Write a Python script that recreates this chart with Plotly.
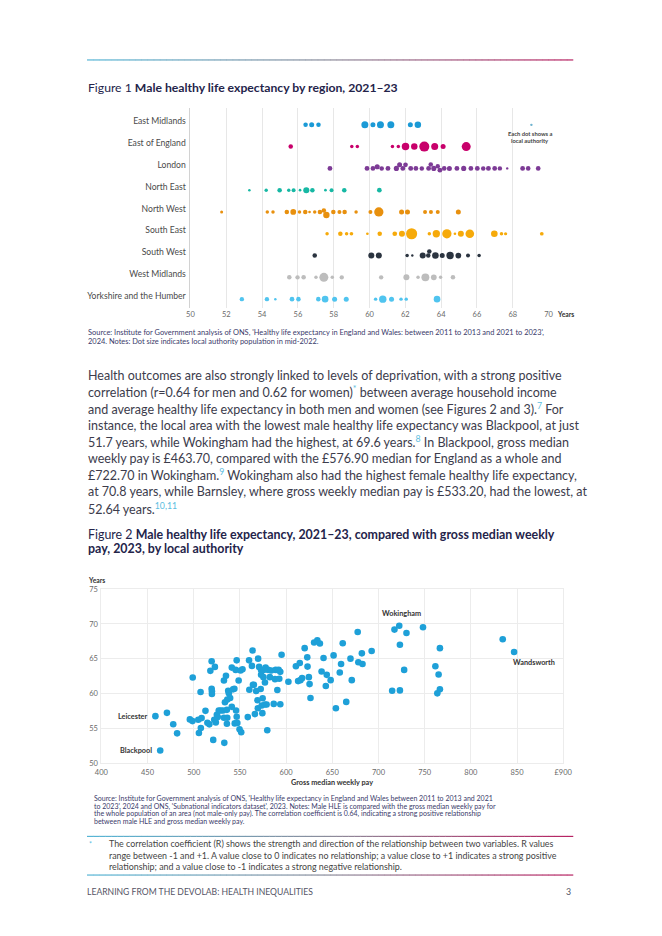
import numpy as np
import plotly.graph_objects as go

W, H = 662, 936
FONT = "Lato"
NAVY = "#24244a"
BODY = "#3c3c4c"
SRC = "#3a3a6a"
SUPC = "#5bbde0"

# ---------------- Figure 1 data ----------------
regions = ["East Midlands", "East of England", "London", "North East", "North West",
           "South East", "South West", "West Midlands", "Yorkshire and the Humber"]
region_colors = ["#1b9ad6", "#c8006b", "#7d3b96", "#17b8a4", "#e8900e",
                 "#f6aa0a", "#2b3440", "#bdbdbd", "#50c4ef"]

hle_east_midlands = [56.43, 56.77, 57.15, 59.74, 60.19, 60.61, 61.19, 62.28, 62.70]
pop_east_midlands = [260, 320, 260, 625, 320, 625, 625, 320, 540]

hle_east_of_england = [55.6, 59.01, 59.32, 61.28, 61.61, 62.01, 62.50, 63.06, 63.64, 64.11, 65.40]
pop_east_of_england = [260, 155, 155, 155, 155, 720, 540, 1275, 625, 320, 1030]

hle_london = [57.79, 59.86, 60.19, 60.43, 60.68, 61.03, 61.50, 61.68, 61.86, 62.01, 62.30,
              62.59, 62.92, 63.30, 63.42, 63.59, 63.81, 63.93, 64.17, 64.46, 64.88, 65.26,
              65.66, 66.02, 66.35, 66.64, 66.99, 67.28, 67.69, 68.55, 68.86, 69.42]
pop_london = [300, 300, 280, 330, 260, 300, 340, 320, 300, 280, 310,
              290, 260, 300, 270, 330, 250, 300, 280, 320, 300, 340,
              290, 300, 260, 310, 290, 250, 30, 300, 270, 280]

hle_north_east = [53.29, 54.23, 54.98, 55.49, 55.76, 56.12, 56.47, 56.81, 57.54, 57.88, 58.59, 60.55]
pop_north_east = [80, 150, 260, 150, 205, 90, 470, 260, 90, 200, 260, 280]

hle_north_west = [51.74, 54.29, 54.61, 55.38, 55.74, 56.09, 56.41, 56.65, 56.94, 57.23, 57.45, 57.59,
                  57.98, 58.32, 58.61, 59.25, 60.05, 60.52, 61.79, 62.12, 63.10, 63.43, 63.81, 64.96]
pop_north_west = [115, 155, 155, 260, 420, 155, 260, 90, 155, 260, 260, 520,
                  260, 205, 260, 155, 205, 1100, 320, 320, 205, 205, 205, 320]

hle_south_east = [57.63, 58.37, 58.72, 58.99, 59.88, 60.57, 61.41, 61.81, 62.35, 63.34,
                  63.73, 64.32, 64.77, 65.10, 65.60, 66.97, 67.37, 67.60, 69.62]
pop_south_east = [155, 260, 155, 170, 90, 260, 280, 460, 1580, 155,
                  680, 1100, 90, 460, 950, 560, 155, 130, 175]

hle_south_west = [56.94, 60.10, 60.52, 62.10, 62.39, 62.97, 63.28, 63.34, 63.68, 64.06,
                  64.50, 64.96, 65.50, 66.12]
pop_south_west = [260, 460, 460, 155, 70, 460, 260, 260, 560, 320, 700, 420, 205, 155]

hle_west_midlands = [55.52, 55.98, 56.32, 57.01, 57.45, 57.92, 58.45, 60.65, 62.06, 62.71,
                     63.12, 63.59, 63.97, 64.66]
pop_west_midlands = [260, 240, 260, 155, 1030, 155, 240, 240, 460, 155, 800, 420, 155, 260]

hle_yorkshire = [52.87, 54.27, 54.74, 55.67, 56.03, 57.14, 57.52, 58.05, 58.70, 60.34,
                 60.74, 61.23, 61.76, 62.05, 63.77]
pop_yorkshire = [240, 240, 80, 280, 260, 260, 560, 320, 320, 155, 700, 320, 155, 155, 560]

fig1_hle = [hle_east_midlands, hle_east_of_england, hle_london, hle_north_east, hle_north_west,
            hle_south_east, hle_south_west, hle_west_midlands, hle_yorkshire]
fig1_pop = [pop_east_midlands, pop_east_of_england, pop_london, pop_north_east, pop_north_west,
            pop_south_east, pop_south_west, pop_west_midlands, pop_yorkshire]

fig1_xticks = [50, 52, 54, 56, 58, 60, 62, 64, 66, 68, 70]

# ---------------- Figure 2 data ----------------
weekly_pay = [458.5, 463.7, 471.0, 477.8, 482.0, 495.8, 498.6, 498.9, 504.9, 505.6, 507.4, 507.7,
              508.5, 512.7, 514.8, 516.9, 518.0, 519.4, 519.4, 519.7, 519.7, 521.1, 522.2, 522.9,
              523.9, 525.0, 526.0, 527.1, 529.2, 531.7, 532.7, 532.7, 533.1, 533.8, 534.9, 535.9,
              535.9, 536.3, 536.3, 537.3, 538.0, 539.4, 541.2, 541.2, 542.6, 544.0, 544.4, 545.4,
              545.8, 546.5, 546.5, 547.2, 548.6, 549.6, 550.7, 551.4, 552.8, 558.5, 559.9, 560.2,
              563.0, 563.7, 564.1, 565.1, 566.2, 567.6, 569.0, 569.7, 569.4, 570.8, 572.5, 572.9,
              572.9, 573.6, 574.3, 574.6, 575.4, 575.7, 577.1, 577.1, 577.8, 578.9, 579.6, 580.6,
              582.4, 583.8, 586.6, 588.0, 588.7, 590.5, 591.9, 592.6, 593.7, 593.7, 595.1, 602.5,
              610.6, 613.0, 614.8, 615.5, 617.3, 620.1, 622.9, 623.2, 624.6, 625.4, 626.4, 630.3,
              633.8, 636.6, 638.4, 640.5, 643.0, 644.0, 648.2, 651.4, 661.3, 659.5, 658.1, 653.9,
              665.1, 669.7, 671.1, 677.5, 678.2, 682.0, 682.7, 692.6, 717.3, 722.5, 730.3, 723.2,
              727.8, 714.8, 723.2, 748.2, 761.6, 765.1, 766.5, 766.5, 763.7, 834.5, 846.8]
male_hle = [56.77, 51.85, 57.24, 55.60, 54.30, 56.30, 56.06, 62.30, 56.25, 54.36, 60.23, 55.07,
            56.49, 57.53, 55.82, 55.59, 63.26, 64.63, 60.70, 60.32, 59.94, 53.36, 56.25, 63.83,
            55.87, 56.96, 56.63, 57.58, 57.58, 57.58, 61.88, 56.53, 52.94, 58.76, 62.55, 57.67,
            55.68, 56.53, 59.14, 60.42, 60.04, 59.38, 63.73, 58.10, 60.61, 60.70, 55.73, 63.40,
            57.58, 56.68, 64.77, 55.78, 61.88, 54.88, 63.31, 54.45, 63.50, 56.63, 64.77, 60.56,
            63.97, 66.19, 61.27, 61.27, 57.06, 60.37, 59.04, 65.01, 57.91, 63.83, 60.65, 63.40,
            62.69, 58.29, 57.20, 59.33, 62.36, 63.40, 61.60, 58.43, 63.73, 58.43, 54.74, 63.40,
            62.36, 63.31, 58.52, 62.07, 63.40, 60.51, 63.40, 62.12, 58.48, 63.12, 65.58, 61.70,
            63.92, 61.79, 64.39, 61.93, 62.22, 66.52, 65.20, 63.87, 62.36, 61.36, 59.38, 67.33,
            67.66, 67.19, 63.16, 65.10, 61.08, 62.69, 61.93, 65.48, 67.23, 64.25, 63.02, 57.91,
            58.81, 65.01, 61.93, 68.84, 64.49, 65.77, 64.25, 66.10, 69.18, 69.74, 68.70, 67.00,
            63.40, 60.42, 60.46, 69.51, 63.92, 62.74, 66.52, 60.61, 60.04, 67.80, 65.96]

labelled_names = ["Leicester", "Blackpool", "Wokingham", "Wandsworth"]
labelled_pay = [458.5, 463.7, 722.5, 846.8]
labelled_hle = [56.77, 51.85, 69.74, 65.96]

fig2_xticks = [400, 450, 500, 550, 600, 650, 700, 750, 800, 850, 900]
fig2_xticktext = ["400", "450", "500", "550", "600", "650", "700", "750", "800", "850", "£900"]
fig2_yticks = [50, 55, 60, 65, 70, 75]

# ---------------- geometry ----------------
F1_X0, F1_X1 = 188, 555          # px for 50 and 70
F1_TOP, F1_BOT = 105, 307
ROW0, ROWSTEP = 122, 22
PXY = (F1_X1 - F1_X0) / 20.0


def psize(p):
    return max(2.4, 0.28 * np.sqrt(p))


def dodge(xs, sizes):
    placed = []
    offs = [0.0] * len(xs)
    for i in np.argsort(xs, kind="stable"):
        x = xs[i] * PXY
        r = sizes[i] / 2.0
        cands = [0.0]
        for (qx, qy, qr) in placed:
            rr = qr + r - 0.2
            dx = abs(x - qx)
            if dx < rr:
                dy = np.sqrt(rr * rr - dx * dx)
                cands += [qy - dy, qy + dy]
        cands.sort(key=lambda c: (round(abs(c), 3), c > 0))
        best = cands[0]
        for c in cands:
            if all((x - qx) ** 2 + (c - qy) ** 2 >= (qr + r - 0.2) ** 2 - 1e-6 for qx, qy, qr in placed):
                best = c
                break
        placed.append((x, best, r))
        offs[i] = best
    return offs


fig = go.Figure()

for i, (name, col) in enumerate(zip(regions, region_colors)):
    xs = fig1_hle[i]
    sz = [psize(p) for p in fig1_pop[i]]
    offs = dodge(xs, sz)
    ys = [i + o / ROWSTEP for o in offs]
    fig.add_trace(go.Scatter(x=xs, y=ys, mode="markers", name=name, xaxis="x", yaxis="y",
                             marker=dict(size=sz, color=col, line=dict(width=0), opacity=1),
                             hoverinfo="x+name"))

# legend-like "each dot" marker
fig.add_trace(go.Scatter(x=[69.04], y=[0], mode="markers", xaxis="x", yaxis="y",
                         marker=dict(size=2.4, color="#6fb3cf"), hoverinfo="skip"))

fig.add_trace(go.Scatter(x=weekly_pay, y=male_hle, mode="markers", xaxis="x2", yaxis="y2",
                         marker=dict(size=6.6, color="#1ea0d8", line=dict(width=0)),
                         hoverinfo="x+y"))

y_top = -(ROW0 - F1_TOP) / ROWSTEP
y_bot = (F1_BOT - ROW0) / ROWSTEP

F2_X0, F2_X1 = 96.7, 570
F2_TOP, F2_BOT = 590.7, 766.7

grid = "#e7e7e7"
tickf = dict(family=FONT, size=7.5, color="#6a6a6a")

fig.update_layout(
    width=W, height=H, autosize=False,
    margin=dict(l=0, r=0, t=0, b=0, pad=0),
    paper_bgcolor="white", plot_bgcolor="white",
    showlegend=False,
    font=dict(family=FONT, color=BODY),
    xaxis=dict(domain=[F1_X0 / W, F1_X1 / W], range=[50, 70], tickvals=fig1_xticks,
               showgrid=True, gridcolor=grid, gridwidth=1, zeroline=False, showline=False,
               ticks="", tickfont=tickf, anchor="y", fixedrange=True),
    yaxis=dict(domain=[1 - F1_BOT / H, 1 - F1_TOP / H], range=[y_bot, y_top],
               tickvals=[i - 0.16 for i in range(len(regions))], ticktext=regions,
               showgrid=False, zeroline=False, showline=True, linecolor="#d2d2d2", linewidth=1,
               ticks="", tickfont=dict(family=FONT, size=8.6, color="#4a4a4a"), anchor="x",
               ticklabelstandoff=2, fixedrange=True),
    xaxis2=dict(domain=[F2_X0 / W, F2_X1 / W], range=[400, 900], tickvals=fig2_xticks,
                ticktext=fig2_xticktext, showgrid=True, gridcolor="#ececec", zeroline=False,
                showline=True, mirror=True, linecolor="#ececec", ticks="", tickfont=tickf,
                anchor="y2", ticklabelstandoff=2, fixedrange=True),
    yaxis2=dict(domain=[1 - F2_BOT / H, 1 - F2_TOP / H], range=[50, 75], tickvals=fig2_yticks,
                showgrid=True, gridcolor="#ececec", zeroline=False, showline=True, mirror=True,
                linecolor="#ececec", ticks="", tickfont=tickf, anchor="x2",
                ticklabelstandoff=1, fixedrange=True),
)

ann = []


def A(text, px, py, size, color, xanchor="left", yanchor="middle"):
    ann.append(dict(text=text, x=px / W, y=1 - py / H, xref="paper", yref="paper",
                    xanchor=xanchor, yanchor=yanchor, showarrow=False, align="left",
                    font=dict(family=FONT, size=size, color=color), borderpad=0))


# titles
A("Figure 1 <b>Male healthy life expectancy by region, 2021–23</b>", 82, 84.5, 12.2, NAVY)
A("<b>Each dot shows a</b>", 536, 131, 5.8, "#444444", xanchor="center")
A("<b>local authority</b>", 536, 138.3, 5.8, "#444444", xanchor="center")
A("<b>Years</b>", 563, 313, 6.8, "#333333")
A("Source: Institute for Government analysis of ONS, 'Healthy life expectancy in England and Wales: between 2011 to 2013 and 2021 to 2023',",
  82, 331.7, 7.45, SRC)
A("2024. Notes: Dot size indicates local authority population in mid-2022.", 82, 340.7, 7.45, SRC)

sup = lambda s: f"<sup><span style='color:{SUPC}'>{s}</span></sup>"
body = [
    "Health outcomes are also strongly linked to levels of deprivation, with a strong positive",
    "correlation (r=0.64 for men and 0.62 for women)" + sup("*") + " between average household income",
    "and average healthy life expectancy in both men and women (see Figures 2 and 3)." + sup("7") + " For",
    "instance, the local area with the lowest male healthy life expectancy was Blackpool, at just",
    "51.7 years, while Wokingham had the highest, at 69.6 years." + sup("8") + " In Blackpool, gross median",
    "weekly pay is £463.70, compared with the £576.90 median for England as a whole and",
    "£722.70 in Wokingham." + sup("9") + " Wokingham also had the highest female healthy life expectancy,",
    "at 70.8 years, while Barnsley, where gross weekly median pay is £533.20, had the lowest, at",
    "52.64 years." + sup("10,11"),
]
for k, line in enumerate(body):
    A(line, 82, 375 + 16.75 * k, 12.5, BODY)

A("Figure 2 <b>Male healthy life expectancy, 2021–23, compared with gross median weekly</b>", 82, 536, 12.4, NAVY)
A("<b>pay, 2023, by local authority</b>", 82, 550, 12.4, NAVY)
A("<b>Years</b>", 82, 581.5, 6.8, "#333333")
A("<b>Gross median weekly pay</b>", 333, 786.5, 7.3, "#333333", xanchor="center")

src2 = [
    "Source: Institute for Government analysis of ONS, 'Healthy life expectancy in England and Wales between 2011 to 2013 and 2021",
    "to 2023', 2024 and ONS, 'Subnational indicators dataset', 2023. Notes: Male HLE is compared with the gross median weekly pay for",
    "the whole population of an area (not male-only pay). The correlation coefficient is 0.64, indicating a strong positive relationship",
    "between male HLE and gross median weekly pay.",
]
for k, line in enumerate(src2):
    A(line, 88, 802.5 + 7.6 * k, 7.0, SRC)

A("*", 83, 848.5, 7, SUPC)
foot = [
    "The correlation coefficient (R) shows the strength and direction of the relationship between two variables. R values",
    "range between -1 and +1. A value close to 0 indicates no relationship; a value close to +1 indicates a strong positive",
    "relationship; and a value close to -1 indicates a strong negative relationship.",
]
A("<br>".join(foot), 104, 859.3, 8.9, "#444444")

A("LEARNING FROM THE DEVOLAB: HEALTH INEQUALITIES", 81, 896.3, 8.6, "#555566")
A("3", 579, 896.3, 8.8, "#555566", xanchor="right")

# figure 2 point labels
lab_style = dict(family=FONT, size=7.3, color="#333333")
offsets = {"Leicester": ("right", -6, 0), "Blackpool": ("right", -6, 0),
           "Wokingham": ("center", 2, 12.5), "Wandsworth": ("left", -3, -10.8)}
for nm, px_, hy in zip(labelled_names, labelled_pay, labelled_hle):
    xa, xs_, ys_ = offsets[nm]
    ann.append(dict(text=f"<b>{nm}</b>", x=px_, y=hy, xref="x2", yref="y2", showarrow=False,
                    xanchor=xa, yanchor="middle", xshift=xs_, yshift=ys_, font=lab_style))

fig.update_layout(annotations=ann)

# gradient rules
shapes = []


def grad(y, x0=82, x1=580, n=80):
    stops = [(0.0, (86, 182, 214)), (0.5, (140, 140, 155)), (1.0, (184, 34, 98))]
    for j in range(n):
        t = (j + 0.5) / n
        if t <= 0.5:
            a, b, u = stops[0][1], stops[1][1], t / 0.5
        else:
            a, b, u = stops[1][1], stops[2][1], (t - 0.5) / 0.5
        c = tuple(int(round(a[m] + (b[m] - a[m]) * u)) for m in range(3))
        xa = x0 + (x1 - x0) * j / n
        xb = x0 + (x1 - x0) * (j + 1) / n + 0.3
        shapes.append(dict(type="line", xref="paper", yref="paper", x0=xa / W, x1=xb / W,
                           y0=1 - y / H, y1=1 - y / H, line=dict(color=f"rgb{c}", width=1.2)))


grad(56.5)
grad(840.5)
grad(879.5)
fig.update_layout(shapes=shapes)

fig.write_html("out.html", config={"displayModeBar": False},
               post_script="document.body.style.margin='0';document.body.style.overflow='hidden';")
